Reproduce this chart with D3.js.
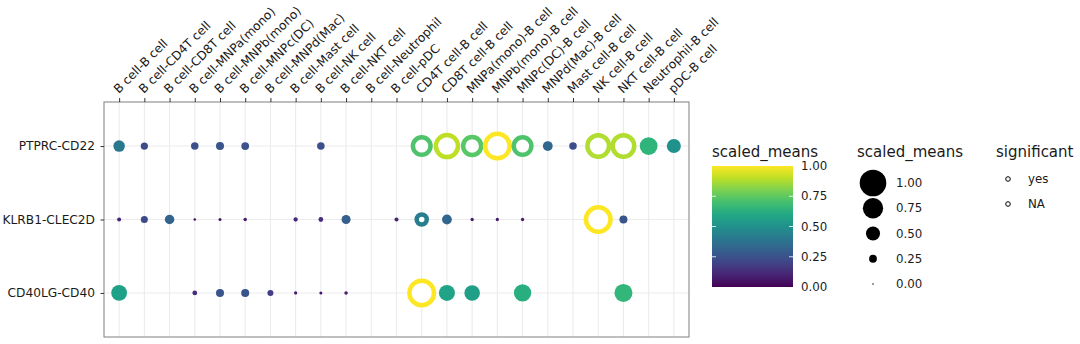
<!DOCTYPE html>
<html>
<head>
<meta charset="utf-8">
<script src="https://cdn.jsdelivr.net/npm/d3@7"></script>
<style>
  body { margin: 0; background: #fff; }
  text { font-family: "DejaVu Sans", sans-serif; }
</style>
</head>
<body>
<div id="chart"></div>
<script>
const pairs = [
  "B cell-B cell", "B cell-CD4T cell", "B cell-CD8T cell", "B cell-MNPa(mono)",
  "B cell-MNPb(mono)", "B cell-MNPc(DC)", "B cell-MNPd(Mac)", "B cell-Mast cell",
  "B cell-NK cell", "B cell-NKT cell", "B cell-Neutrophil", "B cell-pDC",
  "CD4T cell-B cell", "CD8T cell-B cell", "MNPa(mono)-B cell", "MNPb(mono)-B cell",
  "MNPc(DC)-B cell", "MNPd(Mac)-B cell", "Mast cell-B cell", "NK cell-B cell",
  "NKT cell-B cell", "Neutrophil-B cell", "pDC-B cell"
];
const interactions = ["PTPRC-CD22", "KLRB1-CLEC2D", "CD40LG-CD40"];

// scaled means per interaction, one per pair (null = no point)
const meansPTPRC = [0.40, 0.23, null, 0.24, 0.26, 0.25, null, null, 0.24, null, null, null,
  0.72, 0.90, 0.74, 1.00, 0.72, 0.33, 0.24, 0.88, 0.88, 0.65, 0.50];
const meansKLRB1 = [0.10, 0.22, 0.32, 0.04, 0.06, 0.08, null, 0.11, 0.13, 0.30, null, 0.10,
  0.42, 0.33, 0.07, 0.07, 0.07, null, null, 1.00, 0.26, null, null];
const meansCD40 = [0.57, null, null, 0.13, 0.26, 0.26, 0.18, 0.07, 0.06, 0.08, null, null,
  1.00, 0.58, 0.56, null, 0.63, null, null, null, 0.66, null, null];

// significant pairs (index into pairs)
const sigPTPRC = [12, 13, 14, 15, 16, 19, 20];
const sigKLRB1 = [12, 19];
const sigCD40 = [12];

const legendTicks = [0, 0.25, 0.5, 0.75, 1];
const sizeBreaks = [1, 0.75, 0.5, 0.25, 0];
const sigLabels = ["yes", "NA"];

const allMeans = [meansPTPRC, meansKLRB1, meansCD40];
const allSig = [sigPTPRC, sigKLRB1, sigCD40];
const points = [];
interactions.forEach((row, ri) => {
  allMeans[ri].forEach((v, ci) => {
    if (v === null) return;
    points.push({ row: row, pair: pairs[ci], value: v, sig: allSig[ri].includes(ci) });
  });
});

const width = 1080, height = 344;
const panel = { left: 104, right: 689, top: 102, bottom: 337 };

const svg = d3.select("#chart").append("svg")
  .attr("width", width)
  .attr("height", height);

const x = d3.scalePoint().domain(pairs).range([panel.left, panel.right]).padding(0.6);
const y = d3.scalePoint().domain(interactions).range([panel.top, panel.bottom]).padding(0.6);
const color = d3.scaleSequential(d3.interpolateViridis).domain([0, 1]);
const radius = d3.scaleLinear().domain([0, 1]).range([0.75, 13.3]);

// grid
svg.append("g").selectAll("line").data(pairs).join("line")
  .attr("x1", d => x(d)).attr("x2", d => x(d))
  .attr("y1", panel.top).attr("y2", panel.bottom)
  .attr("stroke", "#ebebeb").attr("stroke-width", 1.1);
svg.append("g").selectAll("line").data(interactions).join("line")
  .attr("x1", panel.left).attr("x2", panel.right)
  .attr("y1", d => y(d)).attr("y2", d => y(d))
  .attr("stroke", "#ebebeb").attr("stroke-width", 1.1);

// panel border
svg.append("rect")
  .attr("x", panel.left).attr("y", panel.top)
  .attr("width", panel.right - panel.left).attr("height", panel.bottom - panel.top)
  .attr("fill", "none").attr("stroke", "#7f7f7f").attr("stroke-width", 1);

// axes
const xAxis = svg.append("g")
  .attr("transform", `translate(0,${panel.top})`)
  .call(d3.axisTop(x).tickSize(4).tickSizeOuter(0));
xAxis.select(".domain").remove();
xAxis.selectAll("line").attr("stroke", "#333");
xAxis.selectAll("text")
  .attr("transform", "translate(-4,-11) rotate(-45)")
  .attr("x", 0).attr("y", 0).attr("dy", "0.35em")
  .style("text-anchor", "start")
  .style("font-size", "12.2px")
  .attr("fill", "#1a1a1a");

const yAxis = svg.append("g")
  .attr("transform", `translate(${panel.left},0)`)
  .call(d3.axisLeft(y).tickSize(3.5).tickPadding(5.5).tickSizeOuter(0));
yAxis.select(".domain").remove();
yAxis.selectAll("line").attr("stroke", "#333");
yAxis.selectAll("text").style("font-size", "12.2px").attr("fill", "#1a1a1a");

// points
svg.append("g").selectAll("circle").data(points).join("circle")
  .attr("cx", d => x(d.pair))
  .attr("cy", d => y(d.row))
  .attr("r", d => d.sig ? radius(d.value) - 1 : radius(d.value))
  .attr("fill", d => d.sig ? "#fff" : color(d.value))
  .attr("stroke", d => d.sig ? color(d.value) : "none")
  .attr("stroke-width", d => d.sig ? 4.5 : 0);

// colour legend
const cb = { x: 712, y: 166, w: 81, h: 121 };
const grad = svg.append("defs").append("linearGradient")
  .attr("id", "viridisGrad").attr("x1", 0).attr("y1", 1).attr("x2", 0).attr("y2", 0);
d3.range(0, 1.01, 0.1).forEach(t => {
  grad.append("stop").attr("offset", `${t * 100}%`).attr("stop-color", color(t));
});
svg.append("text").attr("x", cb.x).attr("y", 157)
  .style("font-size", "15px").attr("fill", "#1a1a1a").text("scaled_means");
svg.append("rect").attr("x", cb.x).attr("y", cb.y).attr("width", cb.w).attr("height", cb.h)
  .attr("fill", "url(#viridisGrad)");
const cbY = d3.scaleLinear().domain([0, 1]).range([cb.y + cb.h, cb.y]);
const cbTicks = svg.append("g");
legendTicks.forEach(t => {
  if (t > 0 && t < 1) {
    cbTicks.append("line").attr("x1", cb.x).attr("x2", cb.x + 4)
      .attr("y1", cbY(t)).attr("y2", cbY(t)).attr("stroke", "#fff").attr("stroke-width", 0.8);
    cbTicks.append("line").attr("x1", cb.x + cb.w - 4).attr("x2", cb.x + cb.w)
      .attr("y1", cbY(t)).attr("y2", cbY(t)).attr("stroke", "#fff").attr("stroke-width", 0.8);
  }
  cbTicks.append("text").attr("x", 801).attr("y", cbY(t)).attr("dy", "0.35em")
    .style("font-size", "11.8px").attr("fill", "#1a1a1a").text(t.toFixed(2));
});

// size legend
svg.append("text").attr("x", 857).attr("y", 157)
  .style("font-size", "15px").attr("fill", "#1a1a1a").text("scaled_means");
const sizeY = d3.scalePoint().domain(sizeBreaks).range([183, 284]);
const sizeLeg = svg.append("g");
sizeLeg.selectAll("circle").data(sizeBreaks).join("circle")
  .attr("cx", 873).attr("cy", d => sizeY(d)).attr("r", d => radius(d)).attr("fill", "#000");
sizeLeg.selectAll("text").data(sizeBreaks).join("text")
  .attr("x", 896).attr("y", d => sizeY(d)).attr("dy", "0.35em")
  .style("font-size", "11.8px").attr("fill", "#1a1a1a").text(d => d.toFixed(2));

// significant legend
svg.append("text").attr("x", 996).attr("y", 157)
  .style("font-size", "15px").attr("fill", "#1a1a1a").text("significant");
const sigY = d3.scalePoint().domain(sigLabels).range([179, 204]);
const sigLeg = svg.append("g");
sigLeg.selectAll("circle").data(sigLabels).join("circle")
  .attr("cx", 1008).attr("cy", d => sigY(d)).attr("r", 2.3)
  .attr("fill", "none").attr("stroke", "#000").attr("stroke-width", 1);
sigLeg.selectAll("text").data(sigLabels).join("text")
  .attr("x", 1028).attr("y", d => sigY(d)).attr("dy", "0.35em")
  .style("font-size", "11.8px").attr("fill", "#1a1a1a").text(d => d);
</script>
</body>
</html>
